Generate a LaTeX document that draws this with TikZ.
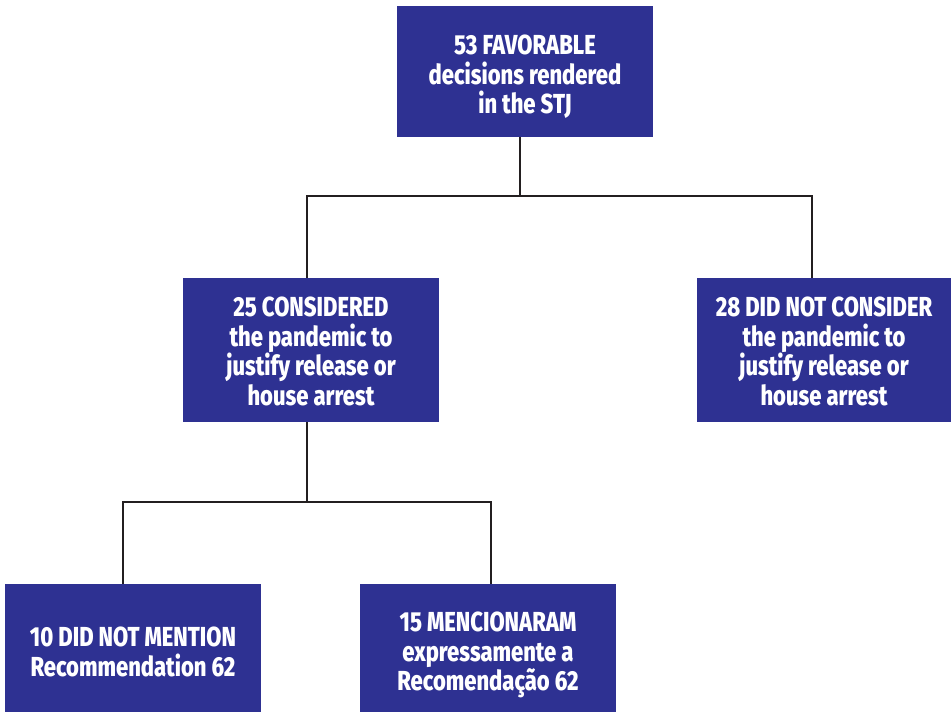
\documentclass[tikz,border=0pt]{standalone}
\usepackage{fontspec}
\setmainfont{Fira Sans}[FakeStretch=0.8, BoldFont={Fira Sans ExtraBold}]
\usetikzlibrary{positioning}

\definecolor{boxblue}{HTML}{2E3192}
\definecolor{linedark}{HTML}{231F20}

% invisible strut that pushes the first line down
\newcommand{\capgap}[1]{\rule{0pt}{#1}}

\begin{document}
\begin{tikzpicture}[
    x=1pt,
    y=-1pt,
    every node/.style={font=\bfseries\fontsize{27.5}{29.5}\selectfont},
    box/.style={
        fill=boxblue,
        text=white,
        inner sep=0pt,
        minimum width=256pt,
        align=center
    },
    link/.style={draw=linedark, line width=2.8pt}
]
\useasboundingbox (0,0) rectangle (951,712);

% Boxes
\node[box, minimum height=131pt] (total) at (525,71) {\capgap{31pt}53 FAVORABLE\\decisions rendered\\in the STJ};

\node[box, minimum height=144pt] (considered) at (311,350) {\capgap{22pt}25 CONSIDERED\\the pandemic to\\justify release or\\house arrest};
\node[box, minimum height=144pt, minimum width=254pt] (notconsidered) at (824,350) {\capgap{22pt}28 DID NOT CONSIDER\\the pandemic to\\justify release or\\house arrest};

\node[box, minimum height=128pt] (notmention) at (133,648) {\capgap{27pt}10 DID NOT MENTION\\Recommendation 62};
\node[box, minimum height=128pt] (mention) at (488,648) {\capgap{34pt}15 MENCIONARAM\\expressamente a\\Recomendação 62};

% Junctions
\coordinate (split1) at (520,196);
\coordinate (left1) at (307,196);
\coordinate (right1) at (812,196);
\coordinate (split2) at (307,502);
\coordinate (left2) at (123,502);
\coordinate (right2) at (491,502);

% Connectors
\draw[link] (split1 |- total.south) -- (split1);
\draw[link] (left1 |- considered.north) -- (left1) -- (right1) -- (right1 |- notconsidered.north);

\draw[link] (split2 |- considered.south) -- (split2);
\draw[link] (left2 |- notmention.north) -- (left2) -- (right2) -- (right2 |- mention.north);

\end{tikzpicture}
\end{document}
